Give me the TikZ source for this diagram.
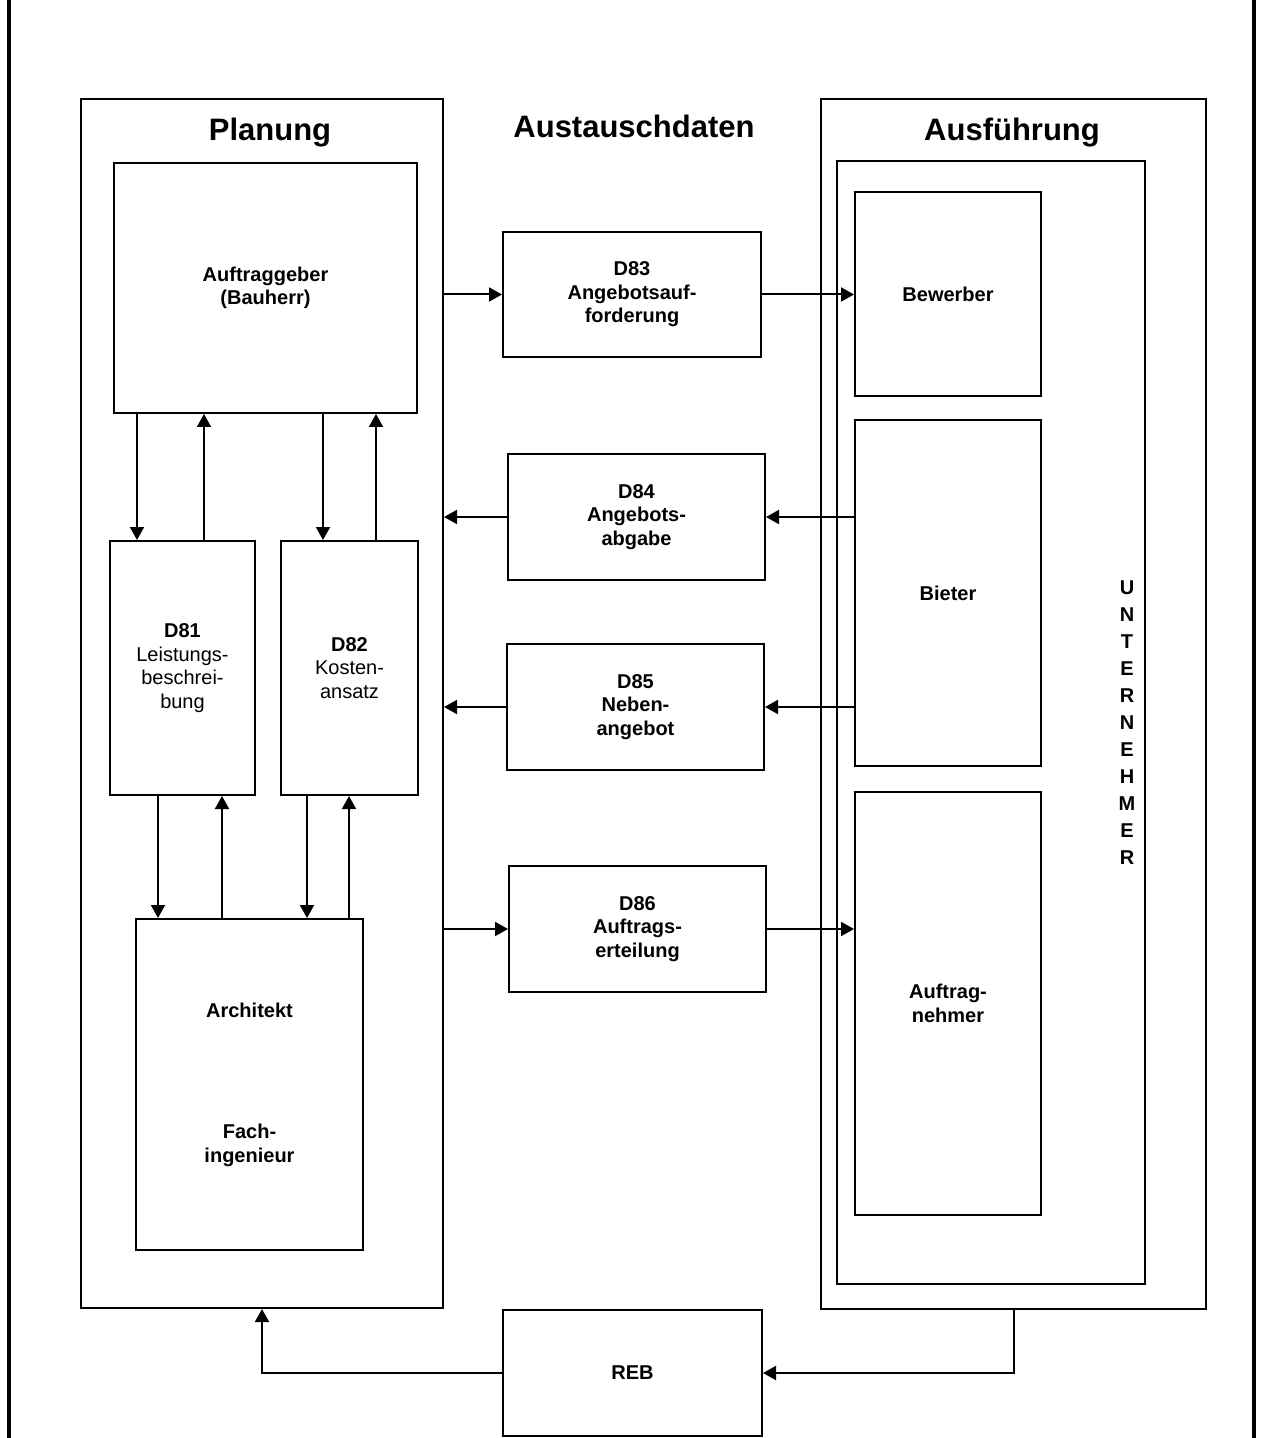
\documentclass[tikz,border=0pt]{standalone}
\usepackage{fontspec}
\setmainfont{Liberation Sans}
\usetikzlibrary{
	positioning,
	arrows.meta
}

\tikzset{
	blk/.style={draw, line width=1pt, inner sep=0pt, align=center,
		font=\fontsize{10}{11.8}\selectfont\bfseries},
	txtblk/.style={blk, font=\fontsize{10}{11.8}\selectfont},
	outerbox/.style={draw, line width=1pt, inner sep=0pt},
	headline/.style={anchor=base, font=\fontsize{15.5}{18}\selectfont\bfseries},
	arr/.style={line width=1pt, -{Triangle[length=6.5pt,width=7pt]}}
}

\begin{document}
\begin{tikzpicture}[x=0.5pt,y=-0.5pt]
	\useasboundingbox (0,0) rectangle (1260,1438);

	% seitenrand
	\draw[line width=1.8pt] (9,0) -- (9,1438);
	\draw[line width=1.8pt] (1254,0) -- (1254,1438);

	% bereiche
	\node [outerbox, minimum width=181pt, minimum height=604.5pt] (planung) at (262,703.5) {};
	\node [outerbox, minimum width=192.5pt, minimum height=605pt] (ausf) at (1013.5,704) {};
	\node [outerbox, minimum width=154pt, minimum height=561.5pt] (untern) at (991,722.5) {};

	\node [headline] (tplan) at (270,141) {Planung};
	\node [headline] (taus)  at (634,138) {Austauschdaten};
	\node [headline] (tausf) at (1012,141) {Ausführung};

	% planung
	\node [blk, minimum width=151.5pt, minimum height=125pt] (auftraggeber) at (265.5,288) {Auftraggeber\\(Bauherr)};
	\node [txtblk, minimum width=72.5pt, minimum height=127pt] (d81) at (182.5,668) {{\bfseries D81}\\Leistungs-\\beschrei-\\bung};
	\node [txtblk, minimum width=68.5pt, minimum height=127pt] (d82) at (349.5,668) {{\bfseries D82}\\Kosten-\\ansatz};
	\node [blk, minimum width=113.5pt, minimum height=165.5pt] (arch) at (249.5,1084.5) {Architekt\\[49pt]Fach-\\ingenieur};

	% austauschdaten
	\node [blk, minimum width=129pt, minimum height=62.5pt] (d83) at (632,294.5) {D83\\Angebotsauf-\\forderung};
	\node [blk, minimum width=128.5pt, minimum height=63pt] (d84) at (636.5,517) {D84\\Angebots-\\abgabe};
	\node [blk, minimum width=128.5pt, minimum height=63pt] (d85) at (635.5,707) {D85\\Neben-\\angebot};
	\node [blk, minimum width=128.5pt, minimum height=63pt] (d86) at (637.5,929) {D86\\Auftrags-\\erteilung};
	\node [blk, minimum width=129.5pt, minimum height=63pt] (reb) at (632.5,1373) {REB};

	% ausfuehrung
	\node [blk, minimum width=93pt, minimum height=102pt] (bewerber) at (948,294) {Bewerber};
	\node [blk, minimum width=93pt, minimum height=173pt] (bieter) at (948,593) {Bieter};
	\node [blk, minimum width=93pt, minimum height=211.5pt] (auftragn) at (948,1003.5) {Auftrag-\\nehmer};
	\node [align=center, font=\fontsize{10}{13.5}\selectfont\bfseries] (unt) at (1127,723)
		{U\\N\\T\\E\\R\\N\\E\\H\\M\\E\\R};

	% spalten der senkrechten pfeile
	\foreach \nm/\xx in {a1/137, a2/204, a3/323, a4/376, b1/158, b2/222, b3/307, b4/349}
		\coordinate (\nm) at (\xx,0);

	\draw[arr] (auftraggeber.south -| a1) -- (d81.north -| a1);
	\draw[arr] (d81.north -| a2) -- (auftraggeber.south -| a2);
	\draw[arr] (auftraggeber.south -| a3) -- (d82.north -| a3);
	\draw[arr] (d82.north -| a4) -- (auftraggeber.south -| a4);

	\draw[arr] (d81.south -| b1) -- (arch.north -| b1);
	\draw[arr] (arch.north -| b2) -- (d81.south -| b2);
	\draw[arr] (d82.south -| b3) -- (arch.north -| b3);
	\draw[arr] (arch.north -| b4) -- (d82.south -| b4);

	% austausch
	\draw[arr] (planung.east |- d83.west) -- (d83.west);
	\draw[arr] (d83.east) -- (bewerber.west |- d83.east);
	\draw[arr] (bieter.west |- d84.east) -- (d84.east);
	\draw[arr] (d84.west) -- (planung.east |- d84.west);
	\draw[arr] (bieter.west |- d85.east) -- (d85.east);
	\draw[arr] (d85.west) -- (planung.east |- d85.west);
	\draw[arr] (planung.east |- d86.west) -- (d86.west);
	\draw[arr] (d86.east) -- (auftragn.west |- d86.east);

	\draw[arr] (ausf.south) |- (reb.east);
	\draw[arr] (reb.west) -| (planung.south);
\end{tikzpicture}
\end{document}
